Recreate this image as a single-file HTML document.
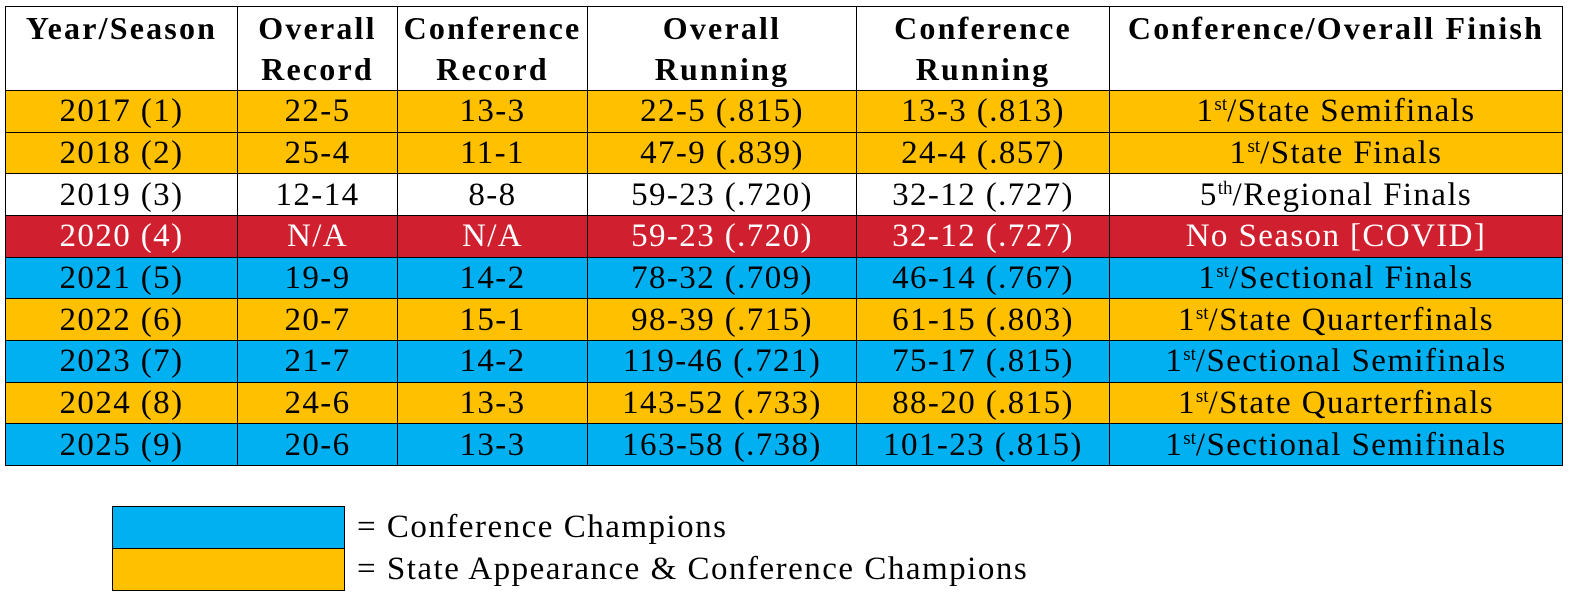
<!DOCTYPE html>
<html><head><meta charset="utf-8"><style>
body{margin:0;width:1586px;height:605px;background:#fff;font-family:"Liberation Serif","DejaVu Serif",serif;position:relative;overflow:hidden}
table{position:absolute;left:5px;top:6px;border-collapse:collapse;table-layout:fixed;width:1557px}
td{border:1.5px solid #000;text-align:center;font-size:33px;letter-spacing:1.4px;padding:0;height:41.67px;line-height:40px;white-space:nowrap;color:#000;box-sizing:border-box}
tr{height:41.67px}
tr.h{height:83px}
tr.h td{font-weight:bold;height:83px;line-height:41px;vertical-align:top;font-size:32px;letter-spacing:2.2px;padding-top:1px}
.o td{background:#FFC000}.b td{background:#00B0F0}.r td{background:#D01F2E;color:#fff}
sup{font-size:19px;line-height:0;vertical-align:11px;letter-spacing:0}
.lg{position:absolute;left:112px;width:231px;height:41px;border:1.5px solid #000}
.lt{position:absolute;left:357px;font-size:33px;letter-spacing:1.5px;line-height:41px}
</style></head><body>
<table>
<colgroup><col style="width:232px"><col style="width:160px"><col style="width:190px"><col style="width:269px"><col style="width:253px"><col style="width:453px"></colgroup>
<tr class="h"><td>Year/Season</td><td>Overall<br>Record</td><td>Conference<br>Record</td><td>Overall<br>Running</td><td>Conference<br>Running</td><td>Conference/Overall Finish</td></tr>
<tr class="o"><td>2017 (1)</td><td>22-5</td><td>13-3</td><td>22-5 (.815)</td><td>13-3 (.813)</td><td>1<sup>st</sup>/State Semifinals</td></tr>
<tr class="o"><td>2018 (2)</td><td>25-4</td><td>11-1</td><td>47-9 (.839)</td><td>24-4 (.857)</td><td>1<sup>st</sup>/State Finals</td></tr>
<tr><td>2019 (3)</td><td>12-14</td><td>8-8</td><td>59-23 (.720)</td><td>32-12 (.727)</td><td>5<sup>th</sup>/Regional Finals</td></tr>
<tr class="r"><td>2020 (4)</td><td>N/A</td><td>N/A</td><td>59-23 (.720)</td><td>32-12 (.727)</td><td>No Season [COVID]</td></tr>
<tr class="b"><td>2021 (5)</td><td>19-9</td><td>14-2</td><td>78-32 (.709)</td><td>46-14 (.767)</td><td>1<sup>st</sup>/Sectional Finals</td></tr>
<tr class="o"><td>2022 (6)</td><td>20-7</td><td>15-1</td><td>98-39 (.715)</td><td>61-15 (.803)</td><td>1<sup>st</sup>/State Quarterfinals</td></tr>
<tr class="b"><td>2023 (7)</td><td>21-7</td><td>14-2</td><td>119-46 (.721)</td><td>75-17 (.815)</td><td>1<sup>st</sup>/Sectional Semifinals</td></tr>
<tr class="o"><td>2024 (8)</td><td>24-6</td><td>13-3</td><td>143-52 (.733)</td><td>88-20 (.815)</td><td>1<sup>st</sup>/State Quarterfinals</td></tr>
<tr class="b"><td>2025 (9)</td><td>20-6</td><td>13-3</td><td>163-58 (.738)</td><td>101-23 (.815)</td><td>1<sup>st</sup>/Sectional Semifinals</td></tr>
</table>
<div class="lg" style="top:506px;background:#00B0F0"></div>
<div class="lg" style="top:548px;background:#FFC000"></div>
<div class="lt" style="top:507px">= Conference Champions</div>
<div class="lt" style="top:549px">= State Appearance &amp; Conference Champions</div>
</body></html>
